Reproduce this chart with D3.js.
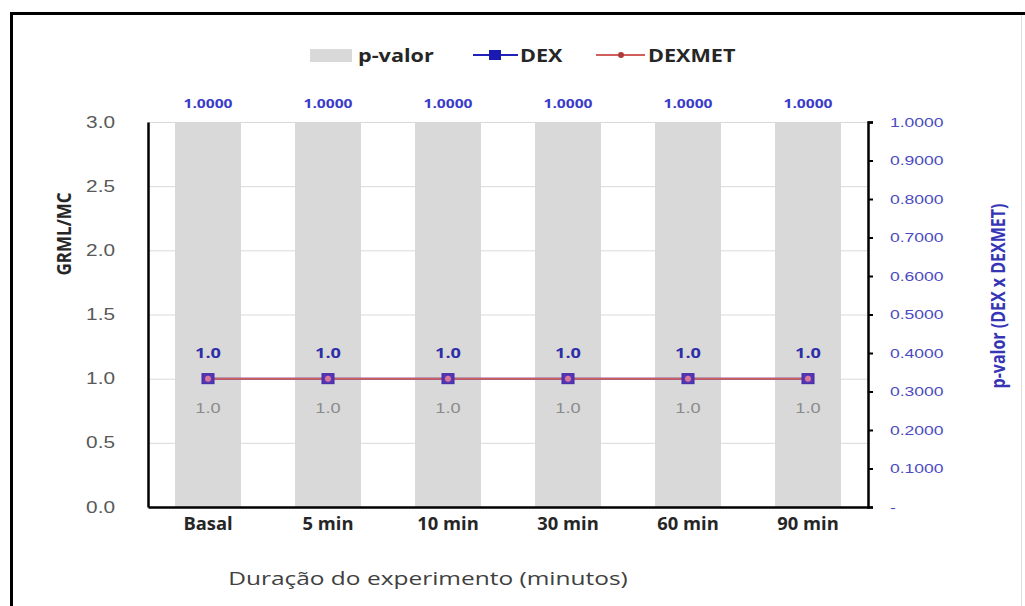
<!DOCTYPE html>
<meta charset="utf-8">
<style>
body { margin: 0; background: #fff; }
</style>
<svg width="1025" height="606"></svg>
<script src="https://d3js.org/d3.v7.min.js"></script>
<script>

// data
var categories = ["Basal", "5 min", "10 min", "30 min", "60 min", "90 min"];
var pValor = [1.0, 1.0, 1.0, 1.0, 1.0, 1.0];
var dex = [1.0, 1.0, 1.0, 1.0, 1.0, 1.0];
var dexmet = [1.0, 1.0, 1.0, 1.0, 1.0, 1.0];
var leftTicks = [0, 0.5, 1.0, 1.5, 2.0, 2.5, 3.0];
var rightTicks = [0, 0.1, 0.2, 0.3, 0.4, 0.5, 0.6, 0.7, 0.8, 0.9, 1.0];

var svg = d3.select("svg"),
    mLeft = 148, mRight = 868, mTop = 122, mBottom = 507,
    sans = "'Liberation Sans', Arial, sans-serif",
    bold = "'Open Sans', 'Noto Sans', sans-serif";

// the source picture is stretched sideways, so text is too
function stretch(sx) {
  return function(sel) {
    sel.each(function() {
      var t = d3.select(this), x0 = +t.attr("x") || 0;
      var pre = t.attr("transform") || "";
      t.attr("transform", pre + " translate(" + x0 + ",0) scale(" + sx + ",1) translate(" + (-x0) + ",0)");
    });
  };
}

// frame
svg.append("rect")
    .attr("x", 11.5).attr("y", 13.5)
    .attr("width", 1040).attr("height", 700)
    .attr("fill", "none").attr("stroke", "#000").attr("stroke-width", 3);
svg.append("line")
    .attr("x1", 1021.5).attr("x2", 1021.5).attr("y1", 15).attr("y2", 606)
    .attr("stroke", "#ddd");

var x = d3.scaleBand().domain(categories).range([mLeft, mRight]).paddingInner(0.45).paddingOuter(0.225);
var y = d3.scaleLinear().domain([0, 3]).range([mBottom, mTop]);
var y2 = d3.scaleLinear().domain([0, 1]).range([mBottom, mTop]);
var cx = function(i) { return x(categories[i]) + x.bandwidth() / 2; };

// gridlines
svg.append("g").selectAll("line")
    .data(leftTicks.filter(function(d) { return d > 0; }))
    .enter().append("line")
      .attr("x1", mLeft).attr("x2", mRight)
      .attr("y1", function(d) { return y(d) + 0.5; })
      .attr("y2", function(d) { return y(d) + 0.5; })
      .attr("stroke", "#d9d9d9");

// bars (p-valor, right axis)
svg.append("g").selectAll("rect")
    .data(pValor)
    .enter().append("rect")
      .attr("x", function(d, i) { return x(categories[i]); })
      .attr("width", x.bandwidth())
      .attr("y", function(d) { return y2(d); })
      .attr("height", function(d) { return mBottom - y2(d); })
      .attr("fill", "#d9d9d9");

svg.append("g").selectAll("text")
    .data(pValor)
    .enter().append("text")
      .attr("x", function(d, i) { return cx(i); })
      .attr("y", function(d) { return y2(d) - 14; })
      .attr("text-anchor", "middle")
      .style("font", "700 12px " + bold)
      .attr("fill", "#3a3ac8")
      .text(function(d) { return d.toFixed(4); })
      .call(stretch(1.3));

// left axis
var gl = svg.append("g").attr("transform", "translate(" + mLeft + ",0)")
    .call(d3.axisLeft(y).tickValues(leftTicks).tickSize(0).tickPadding(33).tickFormat(d3.format(".1f")));
gl.select(".domain").attr("stroke", "#000").attr("stroke-width", 2.5);
gl.selectAll("text").style("font", "16px " + sans).attr("fill", "#595959").call(stretch(1.3));

// right axis
var gr = svg.append("g").attr("transform", "translate(" + mRight + ",0)")
    .call(d3.axisRight(y2).tickValues(rightTicks).tickSize(5).tickPadding(17)
      .tickFormat(function(d) { return d === 0 ? "-" : d.toFixed(4); }));
gr.select(".domain").attr("stroke", "#000").attr("stroke-width", 2.5);
gr.selectAll(".tick line").attr("stroke", "#000").attr("stroke-width", 2);
gr.selectAll("text").style("font", "13.5px " + sans).attr("fill", "#4b4bbf").call(stretch(1.3));

// bottom axis
var gb = svg.append("g").attr("transform", "translate(0," + mBottom + ")")
    .call(d3.axisBottom(x).tickSize(0).tickPadding(11));
gb.select(".domain").attr("stroke", "#000").attr("stroke-width", 2.5);
gb.selectAll("text").style("font", "700 17px " + bold).attr("fill", "#262626").call(stretch(1.08));

// lines
var line = d3.line()
    .x(function(d, i) { return cx(i); })
    .y(function(d) { return y(d); });
svg.append("path").attr("d", line(dex)).attr("fill", "none").attr("stroke", "#2222bb").attr("stroke-width", 2);
svg.append("path").attr("d", line(dexmet)).attr("fill", "none").attr("stroke", "#d0605c").attr("stroke-width", 2);

svg.append("g").selectAll("rect")
    .data(dex)
    .enter().append("rect")
      .attr("x", function(d, i) { return cx(i) - 6; })
      .attr("y", function(d) { return y(d) - 5; })
      .attr("width", 12).attr("height", 10)
      .attr("fill", "#5a34b0").attr("stroke", "#3a2aa8");
svg.append("g").selectAll("circle")
    .data(dexmet)
    .enter().append("circle")
      .attr("cx", function(d, i) { return cx(i); })
      .attr("cy", function(d) { return y(d); })
      .attr("r", 3)
      .attr("fill", "#d8789a");

svg.append("g").selectAll("text")
    .data(dex)
    .enter().append("text")
      .attr("x", function(d, i) { return cx(i); })
      .attr("y", function(d) { return y(d) - 21; })
      .attr("text-anchor", "middle")
      .style("font", "700 14px " + bold)
      .attr("fill", "#2e2ea8")
      .text(function(d) { return d.toFixed(1); })
      .call(stretch(1.3));
svg.append("g").selectAll("text")
    .data(dexmet)
    .enter().append("text")
      .attr("x", function(d, i) { return cx(i); })
      .attr("y", function(d) { return y(d) + 34; })
      .attr("text-anchor", "middle")
      .style("font", "14px " + sans)
      .attr("fill", "#8c8c8c")
      .text(function(d) { return d.toFixed(1); })
      .call(stretch(1.3));

// axis titles
svg.append("text")
    .attr("transform", "translate(71,234) rotate(-90) scale(1,1.15)")
    .attr("text-anchor", "middle").style("font", "700 17px " + bold).attr("fill", "#262626")
    .text("GRML/MC");
svg.append("text")
    .attr("transform", "translate(1005,296) rotate(-90) scale(1,1.25)")
    .attr("text-anchor", "middle").style("font", "700 16px " + bold).attr("fill", "#3535b5")
    .text("p-valor (DEX x DEXMET)");
svg.append("text")
    .attr("x", 428).attr("y", 585)
    .attr("text-anchor", "middle").style("font", "18px " + bold).attr("fill", "#404040")
    .text("Duração do experimento (minutos)")
    .call(stretch(1.36));

// legend
var lg = svg.append("g").attr("transform", "translate(0,55)");
lg.append("rect").attr("x", 310).attr("y", -6).attr("width", 42).attr("height", 13).attr("fill", "#d9d9d9");
lg.append("line").attr("x1", 473).attr("x2", 518).attr("y1", 0).attr("y2", 0).attr("stroke", "#2222bb").attr("stroke-width", 2);
lg.append("rect").attr("x", 489).attr("y", -5).attr("width", 12).attr("height", 10).attr("fill", "#1a1ab0");
lg.append("line").attr("x1", 596).attr("x2", 645).attr("y1", 0).attr("y2", 0).attr("stroke", "#d0605c").attr("stroke-width", 2);
lg.append("circle").attr("cx", 621).attr("cy", 0).attr("r", 3).attr("fill", "#b03a3a");
lg.selectAll("text")
    .data([["p-valor", 358], ["DEX", 520], ["DEXMET", 648]])
    .enter().append("text")
      .attr("x", function(d) { return d[1]; }).attr("y", 7)
      .style("font", "700 18px " + bold).attr("fill", "#262626")
      .text(function(d) { return d[0]; })
      .call(stretch(1.2));

</script>
